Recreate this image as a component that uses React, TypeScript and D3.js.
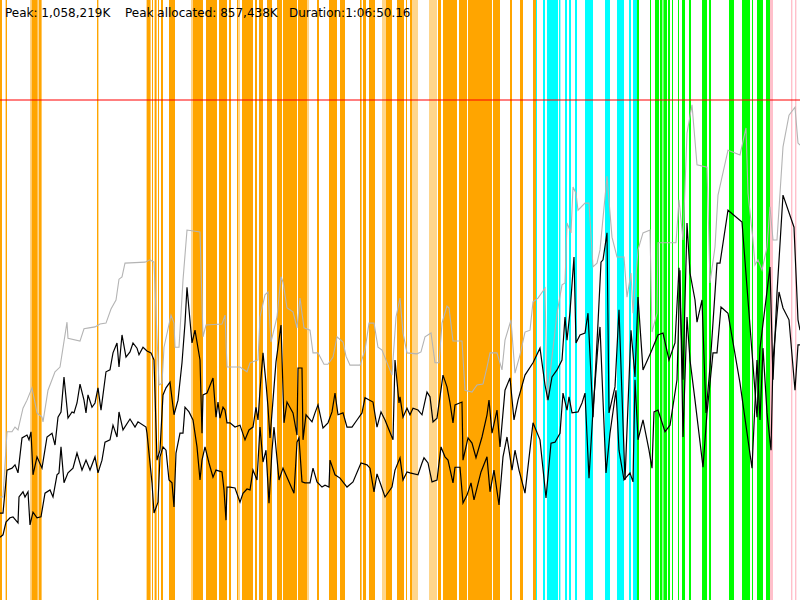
import React from "react";
import * as d3 from "d3";

// ---- header values ----
const PEAK_K = 1058219;
const PEAK_ALLOC_K = 857438;
const DURATION = "1:06:50.16";
const TIME_MAX_S = 4000;

// ---- event intervals [start s, end s] ----
const orangeEvents: [number, number][] = [
  [0, 10], [28, 35], [158, 188], [195, 208], [485, 492], [733, 753], [760, 765], [773, 783],
  [790, 795], [805, 815], [845, 875], [965, 1015], [1030, 1085], [1095, 1135], [1145, 1155],
  [1185, 1190], [1210, 1265], [1275, 1285], [1295, 1315], [1335, 1360], [1385, 1410],
  [1415, 1485], [1490, 1535], [1585, 1595], [1645, 1685], [1700, 1725], [1800, 1808],
  [1815, 1830], [1845, 1875], [1930, 1960], [1985, 2020], [2030, 2035], [2050, 2060],
  [2190, 2205], [2215, 2285], [2295, 2335], [2340, 2460], [2465, 2500], [2550, 2560],
  [2600, 2615], [2665, 2680],
];
const orangeFaintEvents: [number, number][] = [
  [150, 158], [188, 195], [955, 965], [1190, 1200], [1535, 1545], [1910, 1930],
  [2060, 2090], [2145, 2185],
];
const cyanEvents: [number, number][] = [
  [2680, 2685], [2715, 2725], [2735, 2790], [2795, 2802], [2825, 2835], [2845, 2855],
  [2875, 2885], [2925, 2965], [3025, 3050], [3085, 3120], [3145, 3155], [3165, 3185],
];
const greenEvents: [number, number][] = [
  [3185, 3195], [3250, 3255], [3275, 3295], [3300, 3312], [3317, 3335], [3340, 3350],
  [3360, 3365], [3390, 3395], [3410, 3425], [3445, 3455], [3510, 3535], [3545, 3555],
  [3645, 3670], [3710, 3750], [3760, 3765], [3785, 3815], [3830, 3850],
];
const pinkEvents: [number, number][] = [
  [3850, 3865], [3955, 3962], [3975, 3982],
];

// ---- memory series [time s, thousand K] ----
const committedSeries: [number, number][] = [
  [0,218],[15,218],[35,356],[60,356],[75,366],[90,360],[115,406],[135,423],[160,449],[185,396],[210,387],[215,377],[240,444],[275,483],[300,493],[335,588],[340,554],[400,548],[420,574],[445,576],[475,578],[500,584],[530,586],[555,616],[580,635],[595,679],[610,684],[625,713],[725,715],[750,720],[770,715],[785,557],[795,455],[810,459],[820,535],[855,603],[870,586],[875,535],[895,535],[915,677],[935,783],[1000,779],[1015,557],[1030,582],[1110,584],[1125,603],[1135,493],[1200,493],[1235,483],[1250,502],[1290,508],[1300,599],[1325,646],[1340,652],[1355,546],[1385,599],[1405,684],[1415,673],[1435,618],[1465,610],[1485,576],[1500,639],[1510,607],[1520,576],[1550,571],[1565,523],[1590,523],[1620,499],[1640,499],[1665,514],[1685,557],[1715,546],[1730,516],[1750,497],[1800,497],[1825,529],[1845,586],[1870,586],[1890,535],[1910,529],[1960,476],[1980,599],[2000,639],[2015,565],[2035,523],[2085,521],[2105,525],[2125,557],[2155,565],[2175,502],[2195,502],[2210,586],[2235,622],[2245,618],[2265,548],[2310,548],[2325,444],[2360,440],[2385,455],[2415,457],[2435,493],[2450,523],[2485,523],[2510,487],[2525,550],[2555,593],[2575,480],[2600,519],[2625,567],[2650,571],[2665,631],[2690,639],[2725,660],[2735,423],[2760,514],[2785,607],[2810,667],[2825,671],[2835,798],[2855,777],[2865,874],[2880,861],[2890,825],[2925,840],[2945,840],[2965,705],[2985,713],[3000,741],[3035,897],[3060,768],[3085,726],[3120,726],[3135,641],[3155,692],[3165,607],[3190,741],[3215,777],[3250,783],[3260,567],[3285,607],[3290,756],[3380,756],[3395,847],[3415,762],[3435,988],[3460,1048],[3485,921],[3535,916],[3550,671],[3575,747],[3590,857],[3640,952],[3700,942],[3730,999],[3740,861],[3765,762],[3775,709],[3790,720],[3810,698],[3835,747],[3850,832],[3865,762],[3885,762],[3915,959],[3945,1026],[3975,1043],[3990,967],[4000,963],
];
const allocatedSeries: [number, number][] = [
  [0,184],[15,184],[35,275],[60,279],[75,286],[90,269],[110,343],[135,349],[145,339],[155,356],[165,265],[185,303],[210,279],[235,345],[260,353],[275,328],[290,387],[305,398],[320,472],[340,385],[360,398],[370,396],[385,417],[400,457],[420,423],[430,396],[440,434],[460,408],[475,417],[490,449],[505,402],[530,483],[550,487],[565,523],[585,544],[595,493],[610,561],[630,514],[650,525],[665,544],[685,533],[695,519],[715,535],[735,527],[755,523],[770,508],[785,296],[800,317],[815,434],[830,449],[850,461],[870,392],[890,423],[910,502],[925,586],[935,662],[960,544],[975,571],[1000,508],[1010,353],[1015,434],[1035,438],[1065,470],[1080,387],[1090,419],[1100,385],[1115,408],[1125,402],[1135,375],[1150,375],[1175,366],[1200,370],[1225,339],[1245,360],[1265,366],[1280,408],[1290,381],[1300,444],[1315,523],[1330,459],[1340,408],[1350,343],[1365,423],[1380,504],[1405,582],[1420,375],[1435,419],[1465,396],[1485,349],[1490,491],[1510,491],[1515,339],[1530,392],[1560,377],[1575,396],[1590,413],[1615,364],[1640,375],[1660,398],[1675,438],[1690,392],[1715,396],[1735,366],[1760,366],[1785,381],[1810,396],[1825,428],[1865,419],[1885,366],[1905,398],[1925,381],[1965,339],[1975,508],[1995,417],[2000,430],[2015,387],[2035,406],[2050,392],[2065,406],[2090,402],[2110,392],[2135,440],[2150,430],[2165,377],[2185,385],[2215,476],[2235,451],[2250,417],[2265,375],[2275,413],[2310,419],[2315,296],[2340,343],[2360,332],[2380,301],[2410,345],[2435,392],[2445,423],[2460,353],[2485,402],[2500,324],[2525,444],[2550,470],[2570,381],[2590,423],[2625,476],[2665,502],[2700,533],[2725,455],[2740,423],[2760,472],[2785,487],[2810,508],[2825,599],[2835,550],[2850,610],[2870,726],[2880,544],[2900,561],[2925,565],[2940,607],[2965,387],[2990,586],[3005,715],[3015,720],[3035,777],[3045,396],[3075,451],[3095,614],[3125,254],[3155,571],[3175,472],[3190,641],[3215,487],[3255,525],[3290,561],[3315,565],[3345,508],[3375,544],[3395,703],[3415,466],[3435,798],[3450,692],[3475,635],[3485,588],[3510,635],[3530,396],[3550,493],[3585,713],[3600,713],[3640,825],[3710,800],[3785,387],[3800,533],[3850,705],[3865,466],[3885,650],[3915,857],[3970,789],[3990,593],[4000,571],
];
const liveSeries: [number, number][] = [
  [0,133],[15,138],[30,165],[50,174],[65,176],[90,163],[95,218],[115,229],[125,218],[140,229],[150,159],[165,186],[185,174],[205,176],[225,226],[250,233],[265,218],[285,265],[295,269],[305,324],[320,248],[340,269],[365,279],[385,311],[410,275],[430,296],[450,275],[475,303],[490,269],[510,296],[525,334],[550,339],[565,370],[585,345],[595,398],[615,360],[650,383],[675,366],[690,377],[730,366],[735,353],[760,248],[770,184],[790,207],[800,303],[815,324],[830,317],[845,254],[860,248],[870,197],[880,311],[900,353],[915,353],[925,408],[945,398],[965,381],[985,324],[1000,254],[1010,296],[1025,324],[1045,290],[1065,260],[1080,275],[1110,271],[1120,233],[1130,169],[1135,239],[1150,239],[1175,237],[1200,207],[1215,226],[1235,235],[1250,233],[1265,275],[1285,254],[1300,366],[1315,292],[1330,317],[1345,205],[1360,317],[1370,366],[1395,254],[1415,279],[1435,260],[1470,226],[1485,334],[1495,343],[1510,250],[1525,248],[1550,248],[1565,279],[1585,250],[1610,239],[1625,243],[1645,239],[1650,296],[1675,265],[1700,258],[1735,239],[1765,250],[1805,290],[1835,286],[1850,279],[1870,229],[1885,267],[1905,243],[1925,218],[1960,239],[1975,275],[2000,301],[2015,254],[2035,271],[2050,269],[2090,265],[2110,290],[2120,301],[2140,290],[2160,250],[2185,254],[2205,324],[2225,303],[2240,296],[2265,248],[2275,281],[2300,281],[2315,205],[2335,222],[2355,248],[2370,212],[2405,271],[2435,303],[2450,229],[2470,275],[2495,201],[2515,303],[2535,345],[2560,275],[2575,317],[2595,275],[2625,226],[2665,375],[2700,339],[2730,216],[2755,332],[2775,334],[2800,353],[2815,438],[2835,402],[2845,430],[2860,396],[2890,398],[2910,417],[2925,438],[2945,258],[2965,402],[2990,540],[3000,578],[3030,269],[3050,353],[3080,444],[3095,317],[3120,254],[3150,269],[3165,250],[3175,466],[3190,339],[3215,381],[3245,317],[3260,279],[3270,398],[3290,402],[3325,356],[3350,370],[3385,466],[3400,698],[3415,345],[3435,599],[3450,508],[3475,423],[3515,281],[3535,396],[3565,523],[3585,523],[3605,620],[3640,607],[3700,459],[3760,279],[3785,508],[3800,381],[3815,533],[3835,396],[3855,317],[3865,508],[3895,652],[3915,618],[3945,593],[3975,444],[3990,540],[4000,540],
];

const W = 800;
const H = 600;

const fmt = d3.format(",");

export default function App() {
  const x = d3.scaleLinear().domain([0, TIME_MAX_S]).range([0, W]);
  const y = d3.scaleLinear().domain([0, (PEAK_K * 1.2) / 1000]).range([H, 0]);
  const line = d3
    .line<[number, number]>()
    .x((d) => x(d[0]))
    .y((d) => y(d[1]));

  const bars = (ev: [number, number][], color: string, opacity = 1) =>
    ev.map((e, i) => (
      <rect
        key={color + opacity + i}
        x={x(e[0])}
        y={0}
        width={Math.max(0.5, x(e[1]) - x(e[0]))}
        height={H}
        fill={color}
        fillOpacity={opacity}
      />
    ));

  const peakY = y(PEAK_K / 1000);

  return (
    <svg
      width={W}
      height={H}
      style={{ position: "absolute", left: 0, top: 0, background: "#fff" }}
    >
      <rect x={0} y={0} width={W} height={H} fill="#fff" />
      {bars(orangeEvents, "#FFA500")}
      {bars(orangeFaintEvents, "#FFA500", 0.45)}
      {bars(cyanEvents, "#00FFFF")}
      {bars(greenEvents, "#00FF00")}
      {bars(pinkEvents, "#FFC0CB")}
      <path d={line(committedSeries) || ""} fill="none" stroke="#b4b4b4" strokeWidth={1.1} />
      <path d={line(allocatedSeries) || ""} fill="none" stroke="#000" strokeWidth={1.2} />
      <path d={line(liveSeries) || ""} fill="none" stroke="#000" strokeWidth={1.2} />
      <line x1={0} x2={W} y1={peakY} y2={peakY} stroke="#FF0000" strokeOpacity={0.5} strokeWidth={2} />
      <g fontFamily="'DejaVu Sans', Verdana, sans-serif" fontSize={12} fill="#000">
        <text x={5} y={17}>{`Peak: ${fmt(PEAK_K)}K`}</text>
        <text x={125} y={17}>{`Peak allocated: ${fmt(PEAK_ALLOC_K)}K`}</text>
        <text x={289} y={17}>{`Duration:${DURATION}`}</text>
      </g>
    </svg>
  );
}
